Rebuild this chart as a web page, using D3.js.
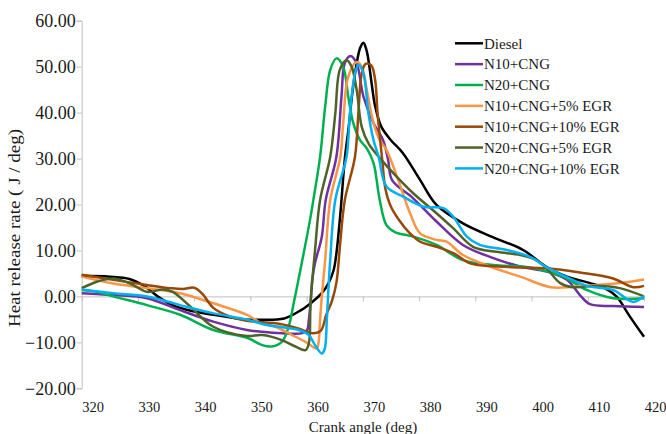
<!DOCTYPE html>
<html>
<head>
<meta charset="utf-8">
<script src="https://cdn.jsdelivr.net/npm/d3@7"></script>
<style>
  html, body { margin: 0; padding: 0; background: #fff; }
  svg { display: block; }
</style>
</head>
<body>
<svg id="chart" width="666" height="434"></svg>
<script>
// Heat release rate vs crank angle, [angle (deg), HRR (J/deg)]
const diesel = [[320,4.5],[325,4.3],[328.5,3.8],[331,2.4],[333.5,0],[335.5,-1.5],[337.5,-2.5],[340,-3.3],[343.5,-4],[349,-5],[352,-5.1],[356,-4.8],[359,-3],[361,-1.2],[362.7,0.7],[363.9,2.9],[364.8,5.7],[365.3,9.4],[366,18],[366.8,30],[367.5,37],[368.1,44],[368.9,50.7],[369.5,54],[370.1,55.2],[370.6,53.8],[371,51.4],[371.6,46],[372.2,41.3],[373.3,36.9],[375,34],[377.1,31.2],[380.2,25.3],[383.1,19.9],[387.8,15.9],[393.1,12.9],[398.5,10.1],[402.7,6.4],[406.3,4.3],[410.4,2.9],[413,1.8],[415.1,0],[417.5,-4.4],[420,-8.8]];
const n10Cng = [[320,0.7],[325.6,0.3],[331.6,-0.4],[337.5,-3],[343.4,-5.5],[349.4,-7.3],[352.1,-7.7],[355.6,-8],[359.2,-8],[360.1,-7.3],[360.4,-5.1],[360.7,-1.5],[361,3.6],[361.5,7.3],[362.7,13],[363.4,21],[365.3,30.4],[366.2,43.5],[366.8,50.8],[367.8,52.3],[368.9,50.7],[370.1,43.5],[371.9,37.7],[373.6,34],[374.5,29.7],[375.2,25.3],[378.9,21.4],[383.1,16.3],[387.8,11.2],[392.6,8.6],[398,6.5],[402.7,5.4],[406.3,3.6],[408.6,0.3],[410.4,-1.7],[414.5,-2.1],[420,-2.3]];
const n20Cng = [[320,1.4],[322.7,1.0],[325.6,0],[331.6,-1.9],[337.5,-4],[343.4,-7.3],[349.4,-9],[352.1,-10.6],[353.8,-10.9],[355.6,-9.9],[356.8,-6.6],[357.7,-1.5],[358.3,2.1],[358.9,5.8],[360.6,16.6],[361.2,21],[362.4,30.4],[363.3,41.3],[364.2,49.3],[365.3,51.8],[366.5,50],[367.4,43.5],[368.3,37.7],[369.5,34],[370.7,32.2],[371.9,29],[373,21],[374.2,15.5],[375.7,14],[379,13],[383.1,11.2],[387.8,7.9],[393.8,6.8],[399.7,6.3],[405.6,4.3],[409.8,1.4],[414.5,-0.4],[420,-0.4]];
const n10Egr5 = [[320,4.3],[325.6,2.8],[331.6,1.8],[337.5,0.7],[343.4,-1.5],[349.4,-4],[352.1,-5.9],[354.4,-6.6],[357.4,-8.4],[359.8,-9.9],[361.8,-11.3],[362.1,-10.2],[362.4,-5],[362.7,0],[363.3,7.9],[364.2,21],[366,30.4],[366.5,37.7],[367.4,47.8],[368.9,51],[369.8,50],[370.7,44.9],[371.9,37.7],[373,34],[374.2,31.9],[376.3,25.3],[378.4,18.1],[380.2,13.7],[383.1,12.3],[384.9,11.9],[387.8,9],[392.6,6.5],[398,4.3],[403.4,2],[407.4,2.1],[411.6,2.5],[415.7,2.9],[420,3.7]];
const n10Egr10 = [[320,4.7],[325.6,3.6],[331.6,2.5],[335.7,1.8],[338,1.6],[340,1.9],[341.5,0.5],[343.4,-2.5],[346.4,-4.4],[349.3,-5.3],[355.3,-6],[358.5,-7],[361,-8],[362.5,-7.5],[363.5,-4],[364.5,-1],[365.3,3],[366,12],[366.8,21],[368.6,30.4],[369.2,39.8],[369.8,48.5],[370.5,50.6],[371.5,50.3],[372.2,47],[372.6,40],[373,35],[373.5,29],[374,23.5],[375,19.5],[376.5,16.5],[378,14.2],[380.2,11.9],[383.1,10.8],[386.1,9.4],[389.1,7.2],[392.6,6.6],[398,6.3],[402.7,6.1],[408.6,5.2],[414.5,3.9],[418.1,2],[420,2.3]];
const n20Egr5 = [[320,1.8],[322.7,3.2],[325.6,3.9],[328.6,2.8],[331.6,1],[334.5,1.5],[336.2,1],[339.3,-2.2],[343.4,-6.6],[349.3,-8.6],[352.1,-8.4],[355.6,-9.5],[358,-10.9],[359.8,-11.7],[360.4,-10.2],[360.7,-1.5],[361.5,10.1],[362.4,21],[364.2,30.4],[365.1,39.8],[365.9,49.3],[367.1,51.4],[368,50],[368.9,44.9],[369.8,36.9],[371,33.3],[373.3,29.7],[376.6,25.3],[379,22.4],[383.1,18.1],[386.1,14.8],[389.6,10.8],[393.8,9.7],[398,9],[400.9,7.9],[402.7,6.1],[405.1,2.9],[407.4,2],[411.6,2.3],[415.7,1.8],[420,0]];
const n20Egr10 = [[320,1.5],[325.6,0.7],[331.6,0],[337.5,-1.9],[343.4,-3.7],[349.3,-5],[352.1,-6],[355.6,-6.7],[358.6,-7.3],[360.4,-8.4],[361.5,-10.6],[362.7,-12.4],[363.2,-11.5],[363.6,-5],[363.9,2.1],[364.2,8],[365.1,21],[367.1,30.4],[367.7,39.8],[368.6,48.5],[369.2,50.4],[370.1,48.5],[371,39.8],[371.9,34],[372.8,30.4],[374.2,23.9],[377.2,21.7],[380.8,19.5],[384.3,19.2],[386.1,17.3],[388.5,13],[390.8,11.2],[395.6,10.1],[399.7,8.6],[402.7,6.3],[406.3,4.2],[409.8,2.3],[414.5,1.4],[418.1,-1.2],[420,0.1]];

const seriesNames = ["Diesel", "N10+CNG", "N20+CNG", "N10+CNG+5% EGR", "N10+CNG+10% EGR", "N20+CNG+5% EGR", "N20+CNG+10% EGR"];
const seriesData = [diesel, n10Cng, n20Cng, n10Egr5, n10Egr10, n20Egr5, n20Egr10];
const seriesColors = ["#000000", "#7030a0", "#00b050", "#f79646", "#984807", "#4f6228", "#00b0f0"];

const xTicks = [320, 330, 340, 350, 360, 370, 380, 390, 400, 410, 420];
const yTicks = [-20, -10, 0, 10, 20, 30, 40, 50, 60];

const svg = d3.select("#chart");
const x = d3.scaleLinear().domain([320, 420]).range([81.7, 644]);
const y = d3.scaleLinear().domain([-20, 60]).range([388.3, 20.7]);
const axisColor = "#bfbfbf";
const textColor = "#1a1a1a";
const serif = "'Liberation Serif', 'Times New Roman', serif";

// Y axis
const yAxis = svg.append("g")
  .attr("transform", `translate(${x(320)},0)`)
  .call(d3.axisLeft(y).tickValues(yTicks).tickSize(5).tickPadding(1).tickFormat(d3.format(".2f")))
  .attr("font-family", serif).attr("font-size", 18);
yAxis.select(".domain").attr("stroke", axisColor);
yAxis.selectAll(".tick line").attr("stroke", axisColor);
yAxis.selectAll(".tick text").attr("fill", textColor);

// X axis line at zero with tick marks
const xAxis = svg.append("g")
  .attr("transform", `translate(0,${y(0)})`)
  .call(d3.axisBottom(x).tickValues(xTicks).tickSize(5).tickSizeOuter(0).tickFormat(""));
xAxis.select(".domain").attr("stroke", axisColor);
xAxis.selectAll(".tick line").attr("stroke", axisColor);

// X tick labels along the bottom
const xLab = svg.append("g")
  .attr("transform", `translate(11,${y(-20) + 13})`)
  .call(d3.axisBottom(x).tickValues(xTicks).tickSize(0).tickPadding(0))
  .attr("font-family", serif).attr("font-size", 14.5);
xLab.select(".domain").remove();
xLab.selectAll(".tick text").attr("fill", textColor);

// Axis titles
svg.append("text")
  .attr("x", 363).attr("y", 432)
  .attr("text-anchor", "middle").attr("fill", textColor)
  .attr("font-family", serif).attr("font-size", 15)
  .text("Crank angle (deg)");
svg.append("text")
  .attr("transform", "translate(20,228) rotate(-90)")
  .attr("text-anchor", "middle").attr("fill", textColor)
  .attr("font-family", serif).attr("font-size", 16)
  .attr("textLength", 198).attr("lengthAdjust", "spacingAndGlyphs")
  .text("Heat release rate ( J / deg)");

// Curves
const line = d3.line()
  .x(d => x(d[0]))
  .y(d => y(d[1]))
  .curve(d3.curveCatmullRom.alpha(0.5));

svg.append("g").selectAll("path")
  .data(seriesData)
  .join("path")
  .attr("d", line)
  .attr("fill", "none")
  .attr("stroke", (d, i) => seriesColors[i])
  .attr("stroke-width", 2.5)
  .attr("stroke-linejoin", "round");

// Legend
const legend = svg.append("g").attr("transform", "translate(455,43.3)");
const rows = legend.selectAll("g")
  .data(seriesNames)
  .join("g")
  .attr("transform", (d, i) => `translate(0,${i * 20.85})`);
rows.append("line")
  .attr("x1", 0).attr("x2", 28)
  .attr("stroke", (d, i) => seriesColors[i])
  .attr("stroke-width", 2.5);
rows.append("text")
  .attr("x", 29).attr("dy", "0.35em")
  .attr("fill", textColor)
  .attr("font-family", serif).attr("font-size", 15)
  .text(d => d);
</script>
</body>
</html>
